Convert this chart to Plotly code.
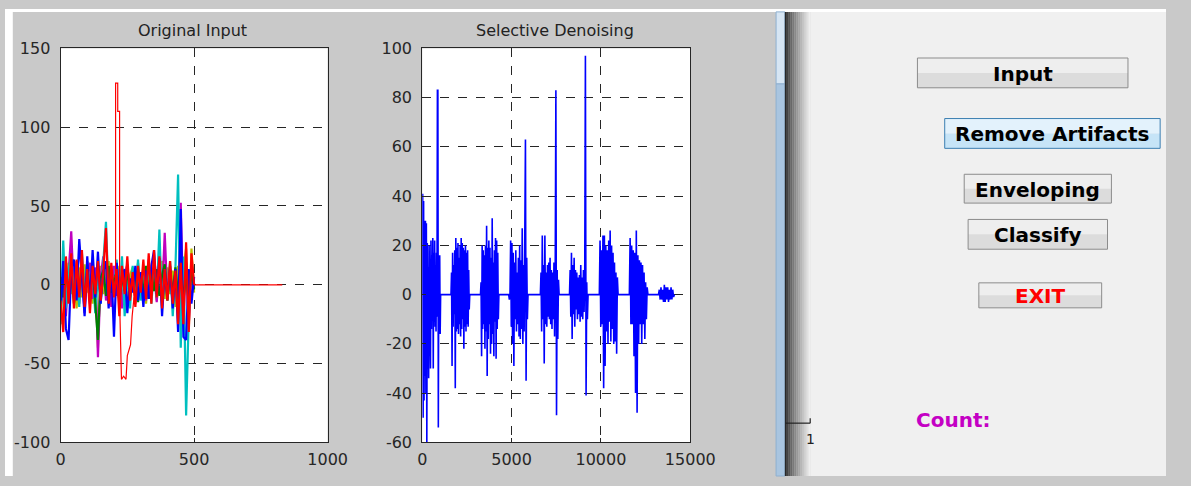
import numpy as np
import plotly.graph_objects as go

W, H = 1191, 486

# ---------------- data: Original Input (sample step 10, 0..500) ----------------
input_step = 10
blue_vals = [-18, 15, -28, -35, 10, 16, -10, 29, 5, -20, 18, -12, 22, -8, 21, -12, 8, 15, -15, 12,
             -33, 14, -10, 5, 10, -18, 4, -5, 12, -10, 8, -14, 9, -9, 12, 22, -6, 17, -20, 10,
             -8, 12, -15, 10, -30, 48, -33, -35, 10, -12, 5]
green_vals = [5, -8, 10, -5, 8, -12, 6, -3, 10, -9, 7, -6, 11, -10, -35, 4, 9, -7, 12, -5,
              3, 8, -10, 6, -4, 10, -8, 5, 9, -11, 7, -6, 12, -9, 8, -4, 10, -7, 6, 13,
              -10, 9, -6, 11, -8, 14, -10, 7, -12, 9, -3]
cyan_vals = [-25, 28, -15, 10, 18, -8, 12, -14, 20, -6, 15, -10, 9, -18, 6, -12, 14, 40, -8, 10,
             -5, 16, -12, 18, -20, 8, -15, 12, -6, 16, -10, 7, -9, 14, -12, 10, -8, 35, -15, 12,
             -10, 15, -20, 10, 70, -40, 18, -83, -20, 15, 0]
magenta_vals = [-10, 12, -20, 8, 34, -6, 15, -12, 10, -18, 6, 14, -9, 11, -46, 5, 18, -10, 8, -14,
                12, -7, 10, -15, 6, 13, -8, 9, -12, 7, -5, 11, -10, 16, -6, 9, -11, 14, -7, 33,
                -9, 10, -13, 8, -12, 52, -20, 14, -25, 10, -2]
yellow_vals = [-25, 6, -10, 14, -6, 9, -15, 11, -8, 13, -5, 10, -12, 7, -40, 12, -6, 9, 15, -11,
               8, -5, 12, -8, 10, -13, 6, 11, -9, 14, -7, 10, -12, 8, -6, 13, -10, 7, 15, -9,
               11, -6, 9, -14, 12, -8, 10, 23, -28, 23, -5]
red_vals = [-10, -30, 18, -12, 20, -15, 16, -8, 22, -14, 10, -18, 12, -6, 15, -10, 8, 36, -12, 14,
            -8, 10, -20, 12, -6, 18, -10, 8, -14, 12, -5, 16, -9, 20, -12, 22, -8, 18, -15, 10,
            -10, 15, -12, 9, -25, 14, -25, 27, -30, 20, 0]
red_spike_x = [200, 206, 206, 214, 214, 221, 221, 228, 236, 245, 250, 256, 262, 268, 275]
red_spike_y = [5, 5, 128, 128, 110, 110, -10, -60, -58, -60, -45, -42, -38, -20, -8]
red_tail_x = [500, 830]
red_tail_y = [0, 0]

# ---------------- data: Selective Denoising (bursts) ----------------
burst_starts = [0, 1610, 3260, 4840, 6610, 8240, 9910, 11590, 13220]
burst_ends = [1030, 2660, 4290, 5920, 7660, 9280, 10960, 12630, 14110]
burst1 = [0, 41, -50, 38, -43, 30, -33, 30, -40, 29, -60, 21, -18, 11, -34, 20, -12, 8, -30, 22,
          -14, 16, -10, 23, -30, 17, -11, 22, -13, 12, -15, 17, -9, 83, 83, -54, 14, -12, 16, -16, 0]
burst2 = [0, 9, -29, 17, -13, 12, -8, 18, -38, 23, -15, 19, -14, 21, -16, 15, -12, 20, -17, 23,
          -14, 21, -10, 19, -22, 18, -13, 20, -15, 17, -12, 18, -13, 10, -6, 0]
burst3 = [0, 5, -25, 20, -14, 18, -12, 16, -22, 20, -15, 28, -33, 19, -18, 22, -12, 19, -24, 15,
          -20, 31, -16, 13, -25, 18, -11, 23, -26, 22, -14, 17, -10, 0]
burst4 = [0, -2, 0, 22, -13, 21, -20, 17, -29, 13, -10, 18, -15, 9, -12, 15, -17, 20, -18, 14,
          -14, 27, -20, 12, -15, 17, 63, -35, 15, -10, 0]
burst5 = [0, 9, -15, 24, -10, 12, -28, 24, -12, 9, -13, 12, -9, 13, -10, 15, -12, 10, -14, 9,
          -10, 13, -17, 11, 83, -49, 10, -18, 6, 0]
burst6 = [0, 10, -9, 17, -18, 12, -8, 15, -13, 10, -6, 9, -10, 7, -8, 8, -11, 12, -9, 7,
          -10, 10, -7, 9, 97, -41, 5, -10, 0]
burst7 = [0, 22, -13, 18, -12, 24, -38, 24, -29, 20, -15, 18, -20, 22, -11, 26, -19, 20, -14, 17,
          -20, 13, -19, 9, -24, 7, 0]
burst8 = [0, 23, -12, 20, -12, 18, -25, 17, -40, 26, -48, 16, -20, 14, -12, 13, -20, 12, -12, 9,
          -18, 5, -10, 3, 0]
burst9 = [0, 2, -2, 3, -2, 2, -3, 4, -3, 3, -2, 3, -3, 2, -2, 3, -2, 2, -1, 0]
bursts = [burst1, burst2, burst3, burst4, burst5, burst6, burst7, burst8, burst9]

left_xticks = [0, 500, 1000]
left_yticks = [-100, -50, 0, 50, 100, 150]
right_xticks = [0, 5000, 10000, 15000]
right_yticks = [-60, -40, -20, 0, 20, 40, 60, 80, 100]

buttons = ["Input", "Remove Artifacts", "Enveloping", "Classify", "EXIT"]

# ---------------- figure ----------------
fig = go.Figure()

def idx_x(vals):
    return np.arange(len(vals)) * input_step

left_series = [
    (yellow_vals, "#bfbf00"),
    (magenta_vals, "#bf00bf"),
    (cyan_vals, "#00bfbf"),
    (green_vals, "#008000"),
    (blue_vals, "#0000ff"),
    (red_vals, "#ff0000"),
]
for vals, col in left_series:
    fig.add_trace(go.Scatter(x=idx_x(vals), y=vals, mode="lines",
                             line=dict(color=col, width=2.2), xaxis="x", yaxis="y",
                             hoverinfo="skip"))
fig.add_trace(go.Scatter(x=red_spike_x, y=red_spike_y, mode="lines",
                         line=dict(color="#ff0000", width=1.2), xaxis="x", yaxis="y"))
fig.add_trace(go.Scatter(x=red_tail_x, y=red_tail_y, mode="lines",
                         line=dict(color="#ff0000", width=1.2), xaxis="x", yaxis="y"))

dx, dy = [], []
for s, e, vals in zip(burst_starts, burst_ends, bursts):
    dx.extend(np.linspace(s, e, len(vals)).tolist())
    dy.extend(vals)
fig.add_trace(go.Scatter(x=dx, y=dy, mode="lines", line=dict(color="#0000ff", width=1.6),
                         xaxis="x2", yaxis="y2"))

def px(x):
    return x / W

def py(y):
    return 1 - y / H

ax_common = dict(showline=True, linecolor="#262626", linewidth=1, mirror=True,
                 showgrid=True, gridcolor="#262626", gridwidth=1, griddash="dash",
                 zeroline=False, ticks="inside", ticklen=4, tickcolor="#262626",
                 tickfont=dict(family="DejaVu Sans", size=16, color="#262626"),
                 fixedrange=True)

fig.update_layout(
    margin=dict(l=0, r=0, t=0, b=0, pad=0), autosize=True,
    paper_bgcolor="#c9c9c9", plot_bgcolor="#ffffff", showlegend=False,
    xaxis=dict(domain=[px(57), px(331)], range=[0, 1000], tickvals=left_xticks,
               ticktext=[str(v) for v in left_xticks],
               anchor="y", ticklabelstandoff=2, **ax_common),
    yaxis=dict(domain=[py(451), py(41)], range=[-100, 150], tickvals=left_yticks,
               ticktext=[str(v) for v in left_yticks],
               anchor="x", ticklabelstandoff=6, **ax_common),
    xaxis2=dict(domain=[px(428), px(703)], range=[0, 15000], tickvals=right_xticks,
                ticktext=[str(v) for v in right_xticks],
                anchor="y2", ticklabelstandoff=2, **ax_common),
    yaxis2=dict(domain=[py(451), py(41)], range=[-60, 100], tickvals=right_yticks,
                ticktext=[str(v) for v in right_yticks],
                anchor="x2", ticklabelstandoff=6, **ax_common),
)

shapes = []
anns = []

def rect(x0, y0, x1, y1, fill, line=None, lw=0, layer="above"):
    shapes.append(dict(type="rect", xref="paper", yref="paper",
                       x0=px(x0), x1=px(x1), y0=py(y1), y1=py(y0),
                       fillcolor=fill, line=dict(color=line or fill, width=lw), layer=layer))

def text(s, x, y, size, color="#000000", bold=False, xanchor="center"):
    anns.append(dict(text=s, x=px(x), y=py(y), xref="paper", yref="paper",
                     xanchor=xanchor, yanchor="middle", showarrow=False,
                     font=dict(family="DejaVu Sans", size=size, color=color,
                               weight="bold" if bold else "normal")))

# white borders
rect(0, 0, W, 3, "#ffffff")
rect(0, 0, 8, H, "#ffffff")
# right light panel
rect(826, 3, W, H, "#f0f0f0")
# scrollbar
rect(791, 3, 800, 78, "#d6e5f3", "#8fb0d0", 1)
rect(791, 78, 800, H, "#a9c5e0", "#8fb0d0", 1)
# dark gradient
n = 13
for i in range(n):
    t = i / (n - 1)
    c = int(40 + (238 - 40) * (t ** 0.8))
    rect(800 + 2 * i, 3, 802 + 2 * i, H, f"rgb({c},{c},{c})")

# small axis at lower left of right panel
shapes.append(dict(type="line", xref="paper", yref="paper", x0=px(801), x1=px(826),
                   y0=py(431), y1=py(431), line=dict(color="#222222", width=1.2)))
shapes.append(dict(type="line", xref="paper", yref="paper", x0=px(826), x1=px(826),
                   y0=py(431), y1=py(426), line=dict(color="#222222", width=1.2)))
text("1", 826, 447, 14, "#222222")

# buttons
btn_boxes = [(936, 51, 1152, 82), (964, 114, 1185, 145), (984, 172, 1135, 202),
             (988, 219, 1131, 250), (999, 285, 1125, 311)]
for label, (x0, y0, x1, y1) in zip(buttons, btn_boxes):
    active = label == "Remove Artifacts"
    top = "#e3f2fc" if active else "#eeeeee"
    bot = "#c6e4f7" if active else "#dcdcdc"
    edge = "#3c7fb1" if active else "#8c8c8c"
    ym = (y0 + y1) / 2
    rect(x0, y0, x1, ym, top)
    rect(x0, ym, x1, y1, bot)
    shapes.append(dict(type="rect", xref="paper", yref="paper", x0=px(x0), x1=px(x1),
                       y0=py(y1), y1=py(y0), line=dict(color=edge, width=1),
                       fillcolor="rgba(0,0,0,0)", layer="above"))
    text(label, (x0 + x1) / 2, ym + 1, 20, "#ff0000" if label == "EXIT" else "#000000", bold=True)

text("Count:", 932, 428, 20, "#c400c4", bold=True, xanchor="left")

# titles
text("Original Input", 192, 22, 16, "#222222")
text("Selective Denoising", 564, 22, 16, "#222222")

fig.update_layout(shapes=shapes, annotations=anns)
fig.write_html(
    "out.html",
    default_width="100vw",
    default_height="100vh",
    config={"displayModeBar": False, "responsive": True},
    post_script=("document.documentElement.style.margin='0';"
                 "document.body.style.margin='0';document.body.style.padding='0';"
                 "document.body.style.overflow='hidden';"),
)
